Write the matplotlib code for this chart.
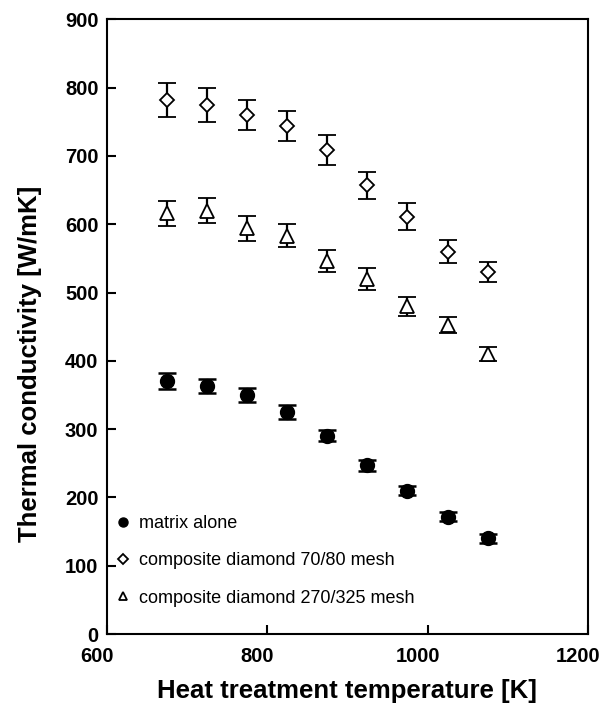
import matplotlib
matplotlib.use("Agg")
import matplotlib.pyplot as plt
from matplotlib.transforms import ScaledTranslation

plt.rcParams['font.family'] = ['Liberation Sans', 'DejaVu Sans']

# heat treatment temperature [K]
temps = [675, 725, 775, 825, 875, 925, 975, 1025, 1075]

# matrix alone
matrix_k = [370, 363, 350, 325, 290, 247, 210, 172, 140]
matrix_err = [12, 10, 10, 10, 8, 8, 7, 6, 6]

# composite diamond 70/80 mesh
coarse_k = [782, 774, 760, 744, 708, 657, 611, 560, 530]
coarse_err = [25, 25, 22, 22, 22, 20, 20, 17, 15]

# composite diamond 270/325 mesh
fine_k = [616, 620, 594, 583, 546, 520, 480, 452, 410]
fine_err = [18, 18, 18, 17, 16, 16, 14, 12, 10]

labels = ["matrix alone", "composite diamond 70/80 mesh",
          "composite diamond 270/325 mesh"]

fig = plt.figure(figsize=(6.03, 7.14), dpi=100)
ax = fig.add_axes([0.177, 0.112, 0.798, 0.861])

common = dict(color='black', ecolor='black', elinewidth=1.6, capsize=6.5,
              capthick=1.8, linestyle='none')
ax.errorbar(temps, matrix_k, yerr=matrix_err, marker='o', ms=10,
            mfc='black', mec='black', label=labels[0], **common)
ax.errorbar(temps, coarse_k, yerr=coarse_err, marker='D', ms=7.5,
            mfc='white', mec='black', mew=1.3, label=labels[1], **common)
ax.errorbar(temps, fine_k, yerr=fine_err, marker='^', ms=9.5,
            mfc='white', mec='black', mew=1.3, label=labels[2], **common)

ax.set_xlim(600, 1200)
ax.set_ylim(0, 900)
ax.set_xticks([600, 800, 1000, 1200])
ax.set_yticks(range(0, 901, 100))
ax.tick_params(direction='in', length=6.5, width=1.5, labelsize=14.5)
ax.tick_params(axis='x', pad=9)
ax.tick_params(axis='y', pad=6)
shift = ScaledTranslation(-7 / 72, 0, fig.dpi_scale_trans)
for lab in ax.get_xticklabels():
    lab.set_transform(lab.get_transform() + shift)
for lab in ax.get_xticklabels() + ax.get_yticklabels():
    lab.set_fontweight('bold')
for s in ax.spines.values():
    s.set_linewidth(1.5)

ax.set_xlabel('Heat treatment temperature [K]', fontsize=18.5,
              fontweight='bold', labelpad=10)
ax.set_ylabel('Thermal conductivity [W/mK]', fontsize=18.5,
              fontweight='bold')
ax.yaxis.set_label_coords(-0.135, 0.44)

h, l = ax.get_legend_handles_labels()
h = [x[0] for x in h]
ax.legend(h, l, loc='lower left', bbox_to_anchor=(-0.015, 0.018),
          frameon=False, markerscale=0.65, fontsize=13, handlelength=0.8,
          handletextpad=0.5, labelspacing=1.12)

fig.savefig('out.png', dpi=100)
